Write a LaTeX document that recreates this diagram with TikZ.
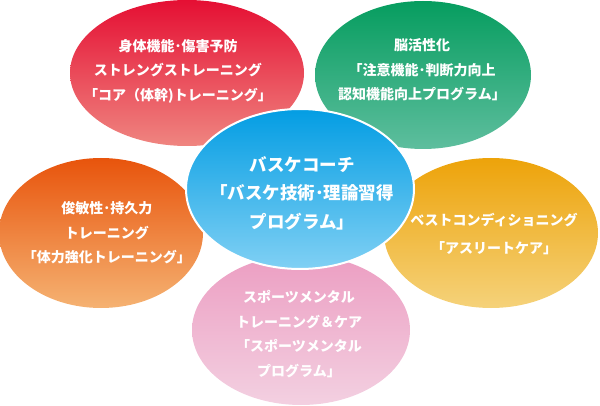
\documentclass[tikz,border=0pt]{standalone}
\usepackage{fontspec}
\setmainfont{Noto Sans CJK JP}
\usetikzlibrary{shapes.geometric}
\definecolor{redT}{HTML}{E50F33}
\definecolor{redB}{HTML}{EF8580}
\definecolor{grnT}{HTML}{069D5F}
\definecolor{grnB}{HTML}{5EBE9E}
\definecolor{bluT}{HTML}{039DE3}
\definecolor{bluB}{HTML}{80D0F4}
\definecolor{orgT}{HTML}{E8540C}
\definecolor{orgB}{HTML}{F5B272}
\definecolor{ylwT}{HTML}{EDA30A}
\definecolor{ylwB}{HTML}{F5D27A}
\definecolor{pnkT}{HTML}{EC9EC2}
\definecolor{pnkB}{HTML}{F3D0E1}
\tikzset{
  blob/.style={ellipse, inner sep=0pt, outer sep=0pt},
  lbl/.style={text=white, align=center, inner sep=0pt, font=\bfseries\fontsize{14}{24.5}\selectfont},
  mainlbl/.style={text=white, align=center, inner sep=0pt, font=\bfseries\fontsize{17.5}{28.5}\selectfont}
}
\begin{document}
\begin{tikzpicture}[x=1pt,y=-1pt]
\useasboundingbox (0,0) rectangle (600,406);
\node[blob, minimum width=234pt, minimum height=146pt, top color=redT, bottom color=redB] (red) at (187,73) {};
\node[blob, minimum width=216pt, minimum height=148pt, top color=grnT, bottom color=grnB] (green) at (423,75) {};
\node[blob, minimum width=204pt, minimum height=150pt, top color=orgT, bottom color=orgB] (orange) at (101,233) {};
\node[blob, minimum width=214pt, minimum height=150pt, top color=ylwT, bottom color=ylwB] (yellow) at (491,233) {};
\node[blob, minimum width=218pt, minimum height=150pt, top color=pnkT, bottom color=pnkB] (pink) at (301,330) {};
\node[blob, draw=white, line width=2pt, minimum width=228pt, minimum height=160pt, top color=bluT, bottom color=bluB] (blue) at (300,189) {};

\node[lbl] (tred) at (178,71) {身体機能･傷害予防\\ストレングストレーニング\\「コア（体幹)トレーニング」};
\node[lbl] (tgreen) at (422,70) {脳活性化\\「注意機能･判断力向上\\認知機能向上プログラム」};
\node[mainlbl] (tblue) at (302,193) {バスケコーチ\\「バスケ技術･理論習得\\プログラム」};
\node[lbl] (torange) at (107,233) {俊敏性･持久力\\トレーニング\\「体力強化トレーニング」};
\node[lbl, font=\bfseries\fontsize{14}{28}\selectfont] (tyellow) at (494,234) {ベストコンディショニング\\「アスリートケア」};
\node[lbl] (tpink) at (299,334) {スポーツメンタル\\トレーニング＆ケア\\「スポーツメンタル\\プログラム」};
\end{tikzpicture}
\end{document}
